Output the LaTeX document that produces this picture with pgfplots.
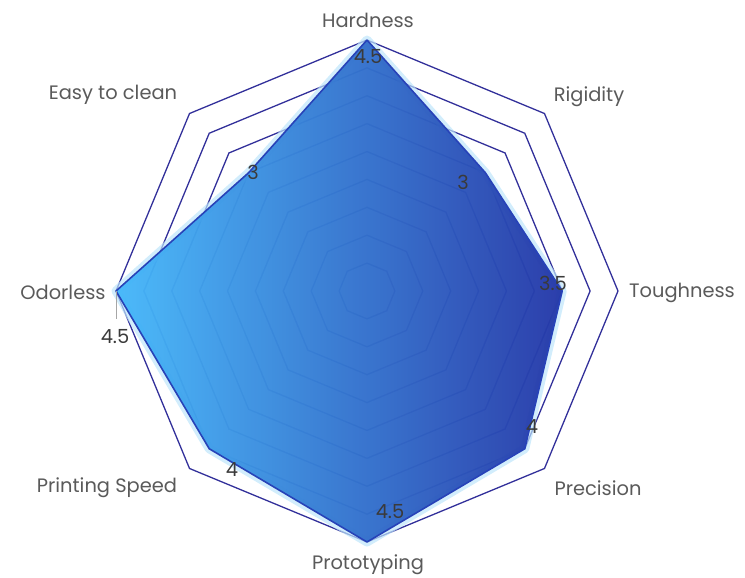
\documentclass[border=0pt]{standalone}
\usepackage{pgfplots}
\pgfplotsset{compat=1.18}
\usepgfplotslibrary{polar}
\usepackage{fontspec}
\setmainfont{Poppins}
\definecolor{ring}{HTML}{32309A}
\definecolor{lightb}{HTML}{46B8FA}
\definecolor{midb}{HTML}{3C98E8}
\definecolor{darkb}{HTML}{2538A8}
\definecolor{edge}{HTML}{2742B8}
\definecolor{halo}{HTML}{BFE6FB}
\definecolor{txt}{HTML}{5A5A5A}
\definecolor{numc}{HTML}{3A3A3A}
\begin{document}
\begin{tikzpicture}
\begin{polaraxis}[
  width=502bp, height=502bp, scale only axis,
  ymin=0, ymax=4.5,
  hide axis, clip=false,
]
\coordinate (O) at (axis cs:0,0);
% octagonal rings
\addplot[ring, line width=1.3bp, no marks] coordinates {(0,0.5)(45,0.5)(90,0.5)(135,0.5)(180,0.5)(225,0.5)(270,0.5)(315,0.5)(360,0.5)};
\addplot[ring, line width=1.3bp, no marks] coordinates {(0,1)(45,1)(90,1)(135,1)(180,1)(225,1)(270,1)(315,1)(360,1)};
\addplot[ring, line width=1.3bp, no marks] coordinates {(0,1.5)(45,1.5)(90,1.5)(135,1.5)(180,1.5)(225,1.5)(270,1.5)(315,1.5)(360,1.5)};
\addplot[ring, line width=1.3bp, no marks] coordinates {(0,2)(45,2)(90,2)(135,2)(180,2)(225,2)(270,2)(315,2)(360,2)};
\addplot[ring, line width=1.3bp, no marks] coordinates {(0,2.5)(45,2.5)(90,2.5)(135,2.5)(180,2.5)(225,2.5)(270,2.5)(315,2.5)(360,2.5)};
\addplot[ring, line width=1.3bp, no marks] coordinates {(0,3)(45,3)(90,3)(135,3)(180,3)(225,3)(270,3)(315,3)(360,3)};
\addplot[ring, line width=1.3bp, no marks] coordinates {(0,3.5)(45,3.5)(90,3.5)(135,3.5)(180,3.5)(225,3.5)(270,3.5)(315,3.5)(360,3.5)};
\addplot[ring, line width=1.3bp, no marks] coordinates {(0,4)(45,4)(90,4)(135,4)(180,4)(225,4)(270,4)(315,4)(360,4)};
\addplot[ring, line width=1.3bp, no marks] coordinates {(0,4.5)(45,4.5)(90,4.5)(135,4.5)(180,4.5)(225,4.5)(270,4.5)(315,4.5)(360,4.5)};
% halo
\addplot[halo, line width=9bp, line join=round, no marks, opacity=0.7] coordinates {(90,4.5)(45,3)(0,3.5)(315,4)(270,4.5)(225,4)(180,4.5)(135,3)(90,4.5)(45,3)};
% data
\addplot[no marks, draw=edge, line width=1.6bp, line join=round, left color=lightb, middle color=midb, right color=darkb, fill opacity=0.97] coordinates {(90,4.5)(45,3)(0,3.5)(315,4)(270,4.5)(225,4)(180,4.5)(135,3)(90,4.5)};
\end{polaraxis}
\pgfresetboundingbox
\path[use as bounding box] (O) ++(-367bp,-287bp) rectangle ++(745bp,578bp);
% category labels
\begin{scope}[every node/.style={text=txt, font=\fontsize{19.5}{22}\selectfont, inner sep=0pt}]
\path (O) ++(1bp,271bp) node {Hardness};
\path (O) ++(222bp,194bp) node {Rigidity};
\path (O) ++(315bp,-2bp) node {Toughness};
\path (O) ++(231bp,-197bp) node {Precision};
\path (O) ++(1bp,-274bp) node {Prototyping};
\path (O) ++(-260bp,-197bp) node {Printing Speed};
\path (O) ++(-304bp,-1bp) node {Odorless};
\path (O) ++(-254bp,196bp) node {Easy to clean};
\end{scope}
% value labels
\draw[gray!70, line width=0.8bp] (O) ++(-251bp,0bp) -- ++(0bp,-28bp);
\begin{scope}[every node/.style={text=numc, font=\fontsize{19.5}{22}\selectfont, inner sep=0pt}]
\path (O) ++(1bp,234bp) node {4.5};
\path (O) ++(96bp,109bp) node {3};
\path (O) ++(186bp,8bp) node {3.5};
\path (O) ++(165bp,-136bp) node {4};
\path (O) ++(23bp,-221bp) node {4.5};
\path (O) ++(-135bp,-179bp) node {4};
\path (O) ++(-252bp,-46bp) node {4.5};
\path (O) ++(-114bp,119bp) node {3};
\end{scope}
\end{tikzpicture}
\end{document}
